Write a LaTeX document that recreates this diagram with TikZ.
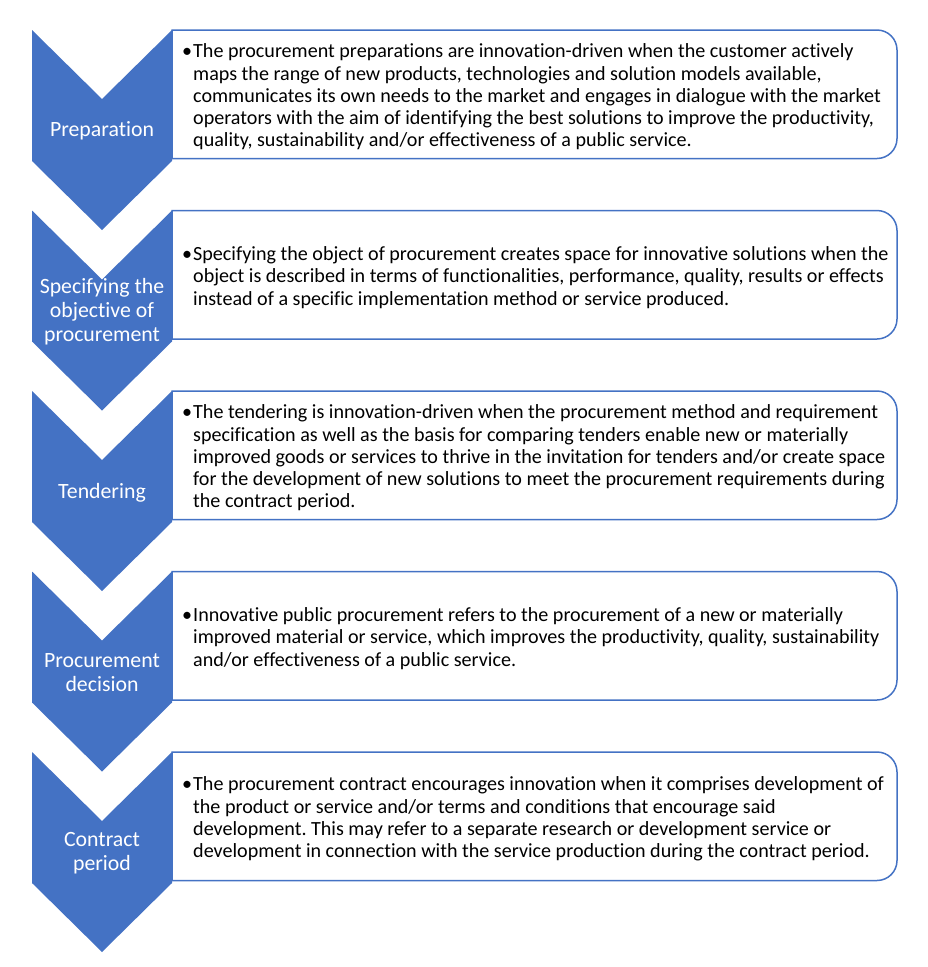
\documentclass[tikz,border=0pt]{standalone}
\usepackage{fontspec}
\setmainfont{Carlito}[Ligatures={NoCommon}]
\frenchspacing
\definecolor{accent}{HTML}{4472C4}
\tikzset{
  chev/.style={fill=accent, draw=none},
  panel/.style={draw=accent, line width=1.5pt, fill=white},
  chevlabel/.style={text=white, font=\fontsize{21.8}{24}\selectfont, align=center, inner sep=0pt},
  bodytext/.style={text=black, font=\fontsize{20.1}{22.2}\selectfont, align=left, inner sep=0pt, anchor=west},
}
\newcommand{\bul}{\makebox[11pt][l]{\textbullet}}
\newcommand{\ind}{\hspace*{11pt}}
\newcommand{\chevat}[1]{%
  \fill[chev] (32,-#1) -- (102,{-#1-69}) -- (172,-#1) -- (172,{-#1-131}) -- (102,{-#1-200}) -- (32,{-#1-131}) -- cycle;}
\newcommand{\panelat}[1]{%
  \draw[panel] (172,-#1) -- (877,-#1) arc[start angle=90, end angle=0, radius=20] -- (897,{-#1-108.5}) arc[start angle=0, end angle=-90, radius=20] -- (172,{-#1-128.5}) -- cycle;}
\begin{document}
\begin{tikzpicture}[x=1pt,y=1pt]
\useasboundingbox (0,0) rectangle (927,-967);
% panels
\panelat{30}
\panelat{210.5}
\panelat{391}
\panelat{571.5}
\panelat{752}
% chevrons
\chevat{30}
\chevat{210.5}
\chevat{391}
\chevat{571.5}
\chevat{752}
% chevron labels
\node[chevlabel] (l1) at (102,-131) {Preparation};
\node[chevlabel] (l2) at (102,-312) {Specifying the\\objective of\\procurement};
\node[chevlabel] (l3) at (102,-492.5) {Tendering};
\node[chevlabel] (l4) at (102,-673) {Procurement\\decision};
\node[chevlabel] (l5) at (102,-853.5) {Contract\\period};
% body texts
\node[bodytext] (t1) at (182,-97) {\bul The procurement preparations are innovation-driven when the customer actively\\
\ind maps the range of new products, technologies and solution models available,\\
\ind communicates its own needs to the market and engages in dialogue with the market\\
\ind operators with the aim of identifying the best solutions to improve the productivity,\\
\ind quality, sustainability and/or effectiveness of a public service.};
\node[bodytext] (t2) at (182,-277.5) {\bul Specifying the object of procurement creates space for innovative solutions when the\\
\ind object is described in terms of functionalities, performance, quality, results or effects\\
\ind instead of a specific implementation method or service produced.};
\node[bodytext] (t3) at (182,-458) {\bul The tendering is innovation-driven when the procurement method and requirement\\
\ind specification as well as the basis for comparing tenders enable new or materially\\
\ind improved goods or services to thrive in the invitation for tenders and/or create space\\
\ind for the development of new solutions to meet the procurement requirements during\\
\ind the contract period.};
\node[bodytext] (t4) at (182,-638.5) {\bul Innovative public procurement refers to the procurement of a new or materially\\
\ind improved material or service, which improves the productivity, quality, sustainability\\
\ind and/or effectiveness of a public service.};
\node[bodytext] (t5) at (182,-819) {\bul The procurement contract encourages innovation when it comprises development of\\
\ind the product or service and/or terms and conditions that encourage said\\
\ind development. This may refer to a separate research or development service or\\
\ind development in connection with the service production during the contract period.};
\end{tikzpicture}
\end{document}
